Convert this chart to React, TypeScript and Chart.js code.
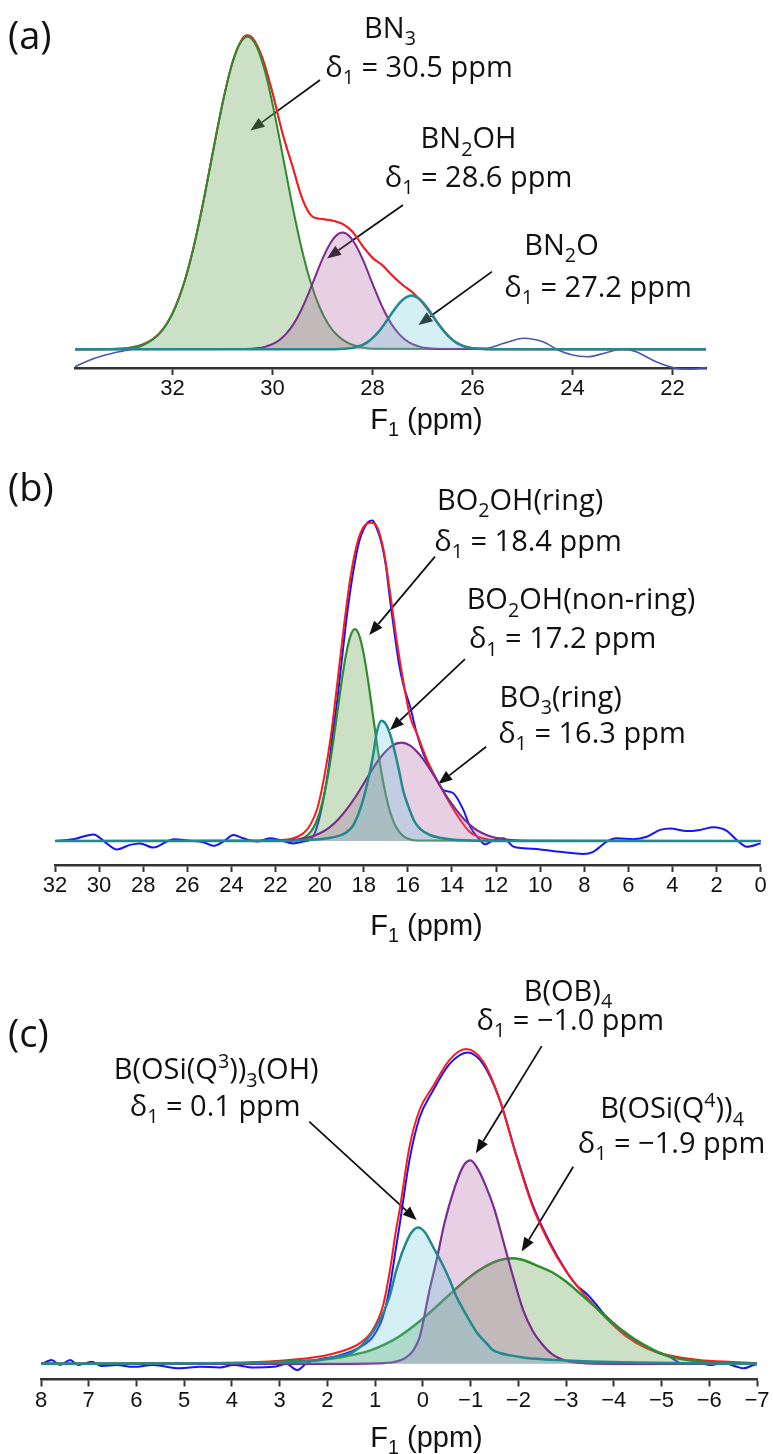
import React, { useEffect, useRef } from 'react';
import { Chart, registerables } from 'chart.js';

Chart.register(...registerables);

// ---------------- Panel (a) data : F1 (ppm) vs intensity (a.u.) ----------------
const aTicks = [32, 30, 28, 26, 24, 22];
const aExpX = [21.33, 21.65, 21.94, 22.34, 22.73, 23.02, 23.36, 23.71, 24.0, 24.29, 24.59, 24.98, 25.37, 25.76, 26.0, 26.2, 26.4, 26.6, 26.8, 27.0, 27.2, 27.4, 27.6, 27.8, 28.0, 28.2, 28.4, 28.6, 28.8, 29.0, 29.2, 29.4, 29.6, 29.8, 30.0, 30.2, 30.4, 30.5, 30.6, 30.8, 31.0, 31.2, 31.4, 31.6, 31.8, 32.0, 32.2, 32.4, 32.6, 32.8, 33.0, 33.2, 33.45, 33.7, 33.95];
const aExpY = [-6.1, -6.6, -6.3, -4.1, -0.8, 0, -1.3, -2.5, -1.9, -0.2, 2.5, 3.7, 2.0, 0.3, 0.4, 1.2, 3.1, 6.7, 11.0, 15.5, 19.0, 21.5, 24.5, 28.0, 30.5, 34.5, 39.2, 41.8, 42.9, 43.4, 44.2, 50.0, 61.0, 72.0, 85.5, 97.0, 103.8, 104.7, 103.6, 95.7, 82.0, 65.1, 47.8, 32.5, 20.5, 12.0, 6.5, 3.3, 1.2, 0.1, -0.6, -1.3, -2.4, -3.9, -5.8];
const aFitX = [21.33, 25.6, 25.8, 26.0, 26.2, 26.4, 26.6, 26.8, 27.0, 27.2, 27.4, 27.6, 27.8, 28.0, 28.2, 28.4, 28.6, 28.8, 29.0, 29.2, 29.4, 29.6, 29.8, 30.0, 30.2, 30.4, 30.5, 30.6, 30.8, 31.0, 31.2, 31.4, 31.6, 31.8, 32.0, 32.2, 32.4, 32.6, 32.8, 33.0, 33.95];
const aFitY = [0, 0, 0.1, 0.4, 1.2, 3.1, 6.7, 11.0, 15.5, 19.0, 21.5, 24.5, 28.0, 30.5, 34.5, 39.2, 41.8, 42.9, 43.4, 44.2, 50.0, 61.0, 72.0, 85.5, 97.0, 103.8, 104.7, 103.6, 95.7, 82.0, 65.1, 47.8, 32.5, 20.5, 12.0, 6.5, 3.3, 1.6, 0.7, 0.3, 0];
const aBN3X = [21.33, 27.98, 28.34, 28.52, 28.7, 28.88, 29.06, 29.24, 29.42, 29.6, 29.78, 29.96, 30.14, 30.32, 30.5, 30.68, 30.86, 31.04, 31.22, 31.4, 31.58, 31.76, 31.94, 32.12, 32.3, 32.48, 32.66, 33.02, 33.95];
const aBN3Y = [0, 0.2, 1.2, 2.4, 4.6, 8.3, 14.1, 22.5, 33.8, 47.7, 63.2, 78.6, 92.0, 101.0, 104.2, 101.0, 92.0, 78.6, 63.2, 47.7, 33.8, 22.5, 14.1, 8.3, 4.6, 2.4, 1.2, 0.2, 0];
const aBN2OHX = [21.33, 26.64, 26.92, 27.06, 27.2, 27.34, 27.48, 27.62, 27.76, 27.9, 28.04, 28.18, 28.32, 28.46, 28.6, 28.74, 28.88, 29.02, 29.16, 29.3, 29.44, 29.58, 29.72, 29.86, 30.0, 30.14, 30.28, 30.56, 33.95];
const aBN2OHY = [0, 0.1, 0.4, 0.9, 1.7, 3.1, 5.3, 8.4, 12.6, 17.8, 23.6, 29.4, 34.3, 37.7, 38.9, 37.7, 34.3, 29.4, 23.6, 17.8, 12.6, 8.4, 5.3, 3.1, 1.7, 0.9, 0.4, 0.1, 0];
const aBN2OX = [21.33, 25.68, 25.9, 26.01, 26.12, 26.23, 26.34, 26.45, 26.56, 26.67, 26.78, 26.89, 27.0, 27.11, 27.22, 27.33, 27.44, 27.55, 27.66, 27.77, 27.88, 27.99, 28.1, 28.21, 28.32, 28.43, 28.54, 28.76, 33.95];
const aBN2OY = [0, 0.04, 0.2, 0.4, 0.8, 1.4, 2.4, 3.9, 5.8, 8.2, 10.9, 13.5, 15.8, 17.3, 17.9, 17.3, 15.8, 13.5, 10.9, 8.2, 5.8, 3.9, 2.4, 1.4, 0.8, 0.4, 0.2, 0.04, 0];

// ---------------- Panel (b) data ----------------
const bTicks = [32, 30, 28, 26, 24, 22, 20, 18, 16, 14, 12, 10, 8, 6, 4, 2, 0];
const bExpX = [0, 0.63, 1.08, 1.54, 2.14, 2.75, 3.35, 4.11, 4.56, 5.17, 5.77, 6.53, 6.98, 7.59, 8.04, 9.1, 10.0, 10.76, 11.21, 11.67, 12.12, 12.5, 12.73, 13.18, 13.48, 13.94, 14.39, 14.69, 15.0, 15.3, 15.6, 15.9, 16.2, 16.4, 16.6, 16.8, 17.0, 17.2, 17.4, 17.6, 17.8, 18.0, 18.2, 18.4, 18.6, 18.8, 19.0, 19.2, 19.4, 19.6, 19.8, 20.0, 20.2, 20.4, 20.74, 21.19, 21.8, 22.25, 22.85, 23.46, 23.91, 24.37, 24.82, 25.27, 25.88, 26.63, 26.93, 27.54, 28.15, 28.6, 29.2, 29.66, 30.26, 31.17, 32];
const bExpY = [-0.8, -1.9, 0.3, 3.4, 4.6, 3.7, 3.3, 4.2, 3.7, 1.4, 0.6, 0.9, -0.2, -3.6, -4.3, -3.6, -2.8, -2.4, -1.9, 0.9, 0.3, -1.1, 0.3, 4.8, 10.3, 15.9, 17.0, 20.3, 24.5, 29.2, 36.0, 44.8, 52.0, 59.0, 69.0, 80.0, 92.0, 99.5, 104.0, 106.8, 106.3, 104.0, 100.0, 93.0, 84.0, 73.0, 60.0, 47.0, 36.0, 24.0, 15.0, 8.0, 3.0, 0.5, -0.2, -0.8, 0.3, 0.9, -0.2, 0.9, 2.0, -0.2, -1.6, -0.4, 0.1, 0.6, -0.2, -2.2, -0.8, -1.3, -2.8, -0.8, 2.2, 0.6, 0];
const bFitX = [0, 11.0, 11.8, 12.6, 13.2, 13.6, 14.1, 14.6, 15.1, 15.6, 15.9, 16.2, 16.5, 16.8, 17.1, 17.4, 17.67, 18.0, 18.3, 18.6, 18.9, 19.2, 19.5, 19.8, 20.1, 20.4, 20.7, 21.2, 22.0, 23.0, 32];
const bFitY = [0, 0, 0.1, 0.9, 3.1, 6.8, 12.6, 19.3, 26.5, 36.0, 41.5, 53.0, 66.5, 82.5, 97.0, 104.8, 106.1, 104.8, 99.2, 88.1, 71.5, 52.6, 34.5, 21.0, 11.0, 5.7, 2.8, 0.9, 0.2, 0, 0];
const bRingX = [0, 15.6, 16.0, 16.2, 16.4, 16.6, 16.8, 17.0, 17.2, 17.4, 17.6, 17.8, 18.0, 18.2, 18.4, 18.6, 18.8, 19.0, 19.2, 19.4, 19.6, 19.8, 20.0, 20.2, 20.4, 20.6, 20.8, 21.2, 32];
const bRingY = [0, 0.16, 0.8, 1.6, 3.1, 5.6, 9.6, 15.3, 22.9, 32.3, 42.8, 53.3, 62.3, 68.4, 70.6, 68.4, 62.3, 53.3, 42.8, 32.3, 22.9, 15.3, 9.6, 5.6, 3.1, 1.6, 0.8, 0.16, 0];
const bNonRingX = [0, 12.5, 13.3, 14.0, 14.5, 15.0, 15.4, 15.7, 16.0, 16.2, 16.4, 16.6, 16.8, 17.0, 17.2, 17.4, 17.6, 17.8, 18.0, 18.2, 18.5, 18.8, 19.1, 19.5, 20.0, 21.0, 22.0, 32];
const bNonRingY = [0, 0, 0.2, 0.5, 1.0, 2.0, 3.8, 6.5, 12.0, 16.5, 23.5, 30.0, 35.5, 39.0, 40.1, 36.5, 27.5, 20.5, 14.5, 9.8, 5.0, 2.8, 1.8, 1.1, 0.6, 0.2, 0, 0];
const bBO3X = [0, 10.56, 11.38, 11.79, 12.2, 12.61, 13.02, 13.43, 13.84, 14.25, 14.66, 15.07, 15.48, 15.89, 16.3, 16.71, 17.12, 17.53, 17.94, 18.35, 18.76, 19.17, 19.58, 19.99, 20.4, 20.81, 21.22, 22.04, 32];
const bBO3Y = [0, 0.07, 0.36, 0.75, 1.4, 2.6, 4.4, 7.1, 10.7, 15.0, 19.9, 24.8, 28.9, 31.8, 32.8, 31.8, 28.9, 24.8, 19.9, 15.0, 10.7, 7.1, 4.4, 2.6, 1.4, 0.75, 0.36, 0.07, 0];

// ---------------- Panel (c) data ----------------
const cTicks = [8, 7, 6, 5, 4, 3, 2, 1, 0, -1, -2, -3, -4, -5, -6, -7];
const cExpX = [-7.0, -6.93, -6.72, -6.58, -6.3, -6.03, -5.75, -5.44, -5.16, -4.9, -4.6, -4.4, -4.2, -4.0, -3.8, -3.64, -3.42, -3.2, -3.0, -2.65, -2.3, -1.96, -1.61, -1.26, -0.94, -0.56, -0.21, 0.07, 0.28, 0.49, 0.56, 0.7, 0.84, 1.05, 1.32, 1.6, 1.81, 2.16, 2.43, 2.64, 2.85, 3.13, 3.55, 3.97, 4.25, 4.67, 5.09, 5.65, 6.07, 6.41, 6.73, 6.94, 7.22, 7.39, 7.6, 7.78, 7.95, 8.0];
const cExpY = [-0.2, -0.4, -1.5, -1.0, 0.2, -0.4, 0.3, 0.1, 2.4, 3.8, 6.0, 8.0, 10.5, 13.5, 16.5, 19.6, 23.5, 26.5, 31.0, 40.8, 53.0, 69.5, 88.0, 100.0, 103.8, 100.0, 91.0, 82.0, 68.0, 46.0, 39.0, 25.0, 15.5, 9.0, 5.5, 3.5, 2.5, 1.5, 0.2, -2.1, -0.1, -1.0, -1.2, -0.4, -1.2, -1.0, -1.5, -0.4, -1.0, -0.4, -0.7, 0.7, -0.4, 1.3, -0.4, 1.3, 0.2, 0];
const cFitX = [-7.0, -6.49, -5.79, -5.1, -4.68, -4.26, -3.84, -3.42, -3.0, -2.65, -2.3, -1.96, -1.61, -1.26, -0.9, -0.56, -0.21, 0.07, 0.28, 0.49, 0.56, 0.7, 0.84, 1.05, 1.32, 1.74, 2.16, 2.86, 3.6, 5.0, 8.0];
const cFitY = [0.2, 0.6, 1.3, 3.0, 5.2, 9.1, 15.2, 22.4, 30.8, 40.2, 52.4, 69.1, 88.0, 100.8, 104.9, 101.3, 92.4, 84.6, 72.4, 51.0, 44.7, 30.2, 19.1, 11.3, 6.9, 4.0, 2.4, 1.2, 0.5, 0.1, 0];
const cQ4X = [-7.0, -6.5, -6.2, -5.79, -5.3, -5.05, -4.82, -4.4, -4.19, -3.98, -3.56, -3.28, -3.0, -2.7, -2.44, -2.1, -1.89, -1.6, -1.2, -0.91, -0.56, -0.21, 0.15, 0.49, 0.765, 1.11, 1.46, 1.81, 2.16, 2.86, 3.56, 5.0, 8.0];
const cQ4Y = [0, 0.2, 0.4, 0.8, 1.9, 3.1, 4.7, 8.6, 11.0, 13.6, 19.7, 23.6, 27.4, 30.6, 32.4, 34.6, 35.2, 34.5, 31.4, 28.0, 23.1, 18.0, 13.1, 9.2, 6.7, 4.4, 3.0, 1.9, 1.3, 0.8, 0.3, 0.1, 0];
const cOBX = [-7.0, -4.0, -3.3, -3.0, -2.7, -2.5, -2.3, -2.1, -1.9, -1.7, -1.5, -1.3, -1.15, -1.0, -0.85, -0.65, -0.45, -0.3, -0.14, 0.0, 0.065, 0.2, 0.38, 0.6, 1.0, 2.0, 8.0];
const cOBY = [0, 0, 0.3, 1.0, 3.3, 6.5, 11.0, 18.0, 28.5, 40.0, 51.5, 60.0, 65.0, 67.8, 66.0, 58.0, 46.8, 35.5, 24.6, 13.5, 9.0, 4.5, 1.8, 0.6, 0.15, 0, 0];
const cQ3X = [-7.0, -5.5, -4.4, -3.5, -3.0, -2.5, -2.1, -1.8, -1.61, -1.45, -1.33, -1.15, -0.91, -0.7, -0.56, -0.4, -0.21, -0.05, 0.1, 0.25, 0.4, 0.49, 0.56, 0.7, 0.9, 1.18, 1.46, 1.81, 2.16, 3.0, 4.5, 8.0];
const cQ3Y = [0, 0.2, 0.4, 0.8, 1.1, 1.5, 2.1, 2.9, 3.6, 4.8, 6.9, 10.0, 16.3, 22.5, 28.0, 33.5, 39.1, 43.7, 45.4, 43.5, 38.5, 34.5, 31.0, 22.3, 14.6, 7.9, 4.0, 2.4, 1.3, 0.5, 0.2, 0];

// ---------------- styles ----------------
const ANN_FONT = '"Open Sans", "DejaVu Sans", sans-serif';
const AX_FONT = '"Liberation Sans", Arial, sans-serif';
const ANN_SIZE = 29;
const TICK_SIZE = 22;
const GREEN = '#2e8b2e';
const GREEN_FILL = 'rgba(110,170,95,0.36)';
const PURPLE = '#7a2d8c';
const PURPLE_FILL = 'rgba(175,95,165,0.30)';
const TEAL = '#23898f';
const TEAL_FILL = 'rgba(100,200,215,0.28)';
const RED = '#ff1a1a';

type Seg = { t: string; s?: 'sub' | 'sup' };
type Label = { x: number; y: number; segs: Seg[] };
type Arrow = { x1: number; y1: number; x2: number; y2: number };
type Series = { xs: number[]; ys: number[]; color: string; width: number; fill?: string };
type PanelCfg = {
  top: number; height: number;
  pad: { left: number; right: number; top: number; bottom: number };
  xMin: number; xMax: number; yMin: number; yMax: number;
  ticks: number[];
  letter: string; letterY: number; titleY: number;
  labels: Label[]; arrows: Arrow[]; series: Series[];
};

const N = (t: string): Seg => ({ t });
const SUB = (t: string): Seg => ({ t, s: 'sub' });
const SUP = (t: string): Seg => ({ t, s: 'sup' });
const delta = (rest: string): Seg[] => [N('\u03b4'), SUB('1'), N(rest)];

const panels: PanelCfg[] = [
  {
    top: 0, height: 440,
    pad: { left: 75, right: 67, top: 20, bottom: 32 },
    xMin: 21.33, xMax: 33.95, yMin: -6.23, yMax: 109.77,
    ticks: aTicks, letter: '(a)', letterY: 49, titleY: 429,
    labels: [
      { x: 27.65, y: 103.7, segs: [N('BN'), SUB('3')] },
      { x: 27.07, y: 90.9, segs: delta(' = 30.5 ppm') },
      { x: 26.08, y: 67.0, segs: [N('BN'), SUB('2'), N('OH')] },
      { x: 25.88, y: 54.2, segs: delta(' = 28.6 ppm') },
      { x: 24.22, y: 31.4, segs: [N('BN'), SUB('2'), N('O')] },
      { x: 23.49, y: 17.5, segs: delta(' = 27.2 ppm') },
    ],
    arrows: [
      { x1: 29.05, y1: 89.8, x2: 30.44, y2: 72.9 },
      { x1: 27.39, y1: 48.1, x2: 28.91, y2: 30.3 },
      { x1: 25.61, y1: 25.9, x2: 27.08, y2: 8.1 },
    ],
    series: [
      { xs: aBN2OX, ys: aBN2OY, color: TEAL, width: 2.5, fill: TEAL_FILL },
      { xs: aBN2OHX, ys: aBN2OHY, color: PURPLE, width: 2, fill: PURPLE_FILL },
      { xs: aBN3X, ys: aBN3Y, color: GREEN, width: 2, fill: GREEN_FILL },
      { xs: aFitX, ys: aFitY, color: RED, width: 2 },
      { xs: aExpX, ys: aExpY, color: '#4858b0', width: 1.6 },
    ],
  },
  {
    top: 440, height: 505,
    pad: { left: 55, right: 12.3, top: 40, bottom: 40 },
    xMin: 0, xMax: 32, yMin: -8, yMax: 120.33,
    ticks: bTicks, letter: '(b)', letterY: 61, titleY: 495,
    labels: [
      { x: 10.91, y: 110.3, segs: [N('BO'), SUB('2'), N('OH(ring)')] },
      { x: 10.55, y: 96.7, segs: delta(' = 18.4 ppm') },
      { x: 8.15, y: 77.2, segs: [N('BO'), SUB('2'), N('OH(non-ring)')] },
      { x: 8.98, y: 64.2, segs: delta(' = 17.2 ppm') },
      { x: 9.07, y: 44.8, segs: [N('BO'), SUB('3'), N('(ring)')] },
      { x: 7.65, y: 32.6, segs: delta(' = 16.3 ppm') },
    ],
    arrows: [
      { x1: 14.77, y1: 94.8, x2: 17.75, y2: 68.7 },
      { x1: 13.41, y1: 60.6, x2: 16.81, y2: 37.0 },
      { x1: 12.45, y1: 31.4, x2: 14.62, y2: 19.0 },
    ],
    series: [
      { xs: bNonRingX, ys: bNonRingY, color: TEAL, width: 2.5, fill: TEAL_FILL },
      { xs: bBO3X, ys: bBO3Y, color: PURPLE, width: 2.2, fill: PURPLE_FILL },
      { xs: bRingX, ys: bRingY, color: GREEN, width: 2.2, fill: GREEN_FILL },
      { xs: bFitX, ys: bFitY, color: RED, width: 2 },
      { xs: bExpX, ys: bExpY, color: '#1414ff', width: 2 },
    ],
  },
  {
    top: 945, height: 509,
    pad: { left: 41, right: 16, top: 55, bottom: 34.5 },
    xMin: -7, xMax: 8, yMin: -5.23, yMax: 121.27,
    ticks: cTicks, letter: '(c)', letterY: 102, titleY: 502,
    labels: [
      { x: -3.04, y: 120.9, segs: [N('B(OB)'), SUB('4')] },
      { x: -3.09, y: 111.3, segs: delta(' = \u22121.0 ppm') },
      { x: 4.33, y: 94.8, segs: [N('B(OSi(Q'), SUP('3'), N('))'), SUB('3'), N('(OH)')] },
      { x: 4.35, y: 82.6, segs: delta(' = 0.1 ppm') },
      { x: -5.22, y: 81.8, segs: [N('B(OSi(Q'), SUP('4'), N('))'), SUB('4')] },
      { x: -5.21, y: 70.2, segs: delta(' = \u22121.9 ppm') },
    ],
    arrows: [
      { x1: -2.49, y1: 105.9, x2: -1.11, y2: 70.2 },
      { x1: 2.38, y1: 80.7, x2: 0.13, y2: 47.9 },
      { x1: -3.15, y1: 65.7, x2: -2.07, y2: 37.4 },
    ],
    series: [
      { xs: cQ3X, ys: cQ3Y, color: TEAL, width: 2.5, fill: TEAL_FILL },
      { xs: cOBX, ys: cOBY, color: PURPLE, width: 2.2, fill: PURPLE_FILL },
      { xs: cQ4X, ys: cQ4Y, color: GREEN, width: 2.5, fill: GREEN_FILL },
      { xs: cFitX, ys: cFitY, color: RED, width: 2 },
      { xs: cExpX, ys: cExpY, color: '#1414ff', width: 2 },
    ],
  },
];

function drawRich(ctx: CanvasRenderingContext2D, segs: Seg[], cx: number, by: number, size: number, family: string) {
  const small = size * 0.68;
  const parts = segs.map((sg) => {
    const fs = sg.s ? small : size;
    ctx.font = `${fs}px ${family}`;
    return { ...sg, fs, w: ctx.measureText(sg.t).width };
  });
  const total = parts.reduce((a, p) => a + p.w, 0);
  let x = cx - total / 2;
  ctx.textAlign = 'left';
  ctx.textBaseline = 'alphabetic';
  for (const p of parts) {
    ctx.font = `${p.fs}px ${family}`;
    const dy = p.s === 'sub' ? size * 0.25 : p.s === 'sup' ? -size * 0.38 : 0;
    ctx.fillText(p.t, x, by + dy);
    x += p.w;
  }
}

function overlay(cfg: PanelCfg) {
  return {
    id: 'overlay',
    beforeDatasetsDraw(chart: any) {
      const ctx: CanvasRenderingContext2D = chart.ctx;
      const X = chart.scales.x;
      const Y = chart.scales.y;
      ctx.save();
      for (const a of cfg.arrows) {
        const x1 = X.getPixelForValue(a.x1), y1 = Y.getPixelForValue(a.y1);
        const x2 = X.getPixelForValue(a.x2), y2 = Y.getPixelForValue(a.y2);
        const ang = Math.atan2(y2 - y1, x2 - x1);
        const hl = 14, hw = 5.5;
        const bx = x2 - hl * Math.cos(ang), by = y2 - hl * Math.sin(ang);
        ctx.strokeStyle = '#111';
        ctx.fillStyle = '#111';
        ctx.lineWidth = 1.8;
        ctx.beginPath();
        ctx.moveTo(x1, y1);
        ctx.lineTo(bx, by);
        ctx.stroke();
        ctx.beginPath();
        ctx.moveTo(x2, y2);
        ctx.lineTo(bx + hw * Math.sin(ang), by - hw * Math.cos(ang));
        ctx.lineTo(bx - hw * Math.sin(ang), by + hw * Math.cos(ang));
        ctx.closePath();
        ctx.fill();
      }
      ctx.restore();
    },
    afterDraw(chart: any) {
      const ctx: CanvasRenderingContext2D = chart.ctx;
      const X = chart.scales.x;
      const Y = chart.scales.y;
      ctx.save();
      ctx.fillStyle = '#111';
      for (const l of cfg.labels) {
        drawRich(ctx, l.segs, X.getPixelForValue(l.x), Y.getPixelForValue(l.y), ANN_SIZE, ANN_FONT);
      }
      ctx.font = `38px ${ANN_FONT}`;
      ctx.textAlign = 'left';
      ctx.textBaseline = 'alphabetic';
      ctx.fillText(cfg.letter, 8, cfg.letterY);
      drawRich(ctx, [N('F'), SUB('1'), N(' (ppm)')], 426.5, cfg.titleY, 29, AX_FONT);
      ctx.restore();
    },
  };
}

function Panel({ cfg }: { cfg: PanelCfg }) {
  const ref = useRef<HTMLCanvasElement>(null);
  useEffect(() => {
    const canvas = ref.current;
    if (!canvas) return;
    const chart = new Chart(canvas, {
      type: 'line',
      data: {
        datasets: cfg.series.map((s) => ({
          data: s.xs.map((x, i) => ({ x, y: s.ys[i] })),
          borderColor: s.color,
          borderWidth: s.width,
          backgroundColor: s.fill ?? 'transparent',
          fill: s.fill ? 'origin' : false,
          pointRadius: 0,
          cubicInterpolationMode: 'monotone',
          clip: false,
        })) as any,
      },
      options: {
        animation: false,
        responsive: false,
        maintainAspectRatio: false,
        devicePixelRatio: 1,
        events: [],
        layout: { padding: cfg.pad },
        plugins: { legend: { display: false }, tooltip: { enabled: false } },
        scales: {
          x: {
            type: 'linear',
            reverse: true,
            min: cfg.xMin,
            max: cfg.xMax,
            afterBuildTicks: (axis: any) => {
              axis.ticks = cfg.ticks.map((value) => ({ value }));
            },
            afterFit: (scale: any) => {
              scale.height = 40;
            },
            ticks: {
              autoSkip: false,
              maxRotation: 0,
              minRotation: 0,
              padding: 1,
              color: '#111',
              font: { family: AX_FONT, size: TICK_SIZE },
              callback: (v: any) => (Number(v) < 0 ? '\u2212' + Math.abs(Number(v)) : String(v)),
            },
            grid: {
              display: true,
              drawOnChartArea: false,
              drawTicks: true,
              tickLength: 7,
              tickColor: '#333',
              tickWidth: 2,
            },
            border: { display: true, color: '#333', width: 2.5 },
          },
          y: { display: false, min: cfg.yMin, max: cfg.yMax },
        },
      } as any,
      plugins: [overlay(cfg)],
    });
    return () => chart.destroy();
  }, [cfg]);
  return (
    <canvas
      ref={ref}
      width={773}
      height={cfg.height}
      style={{ position: 'absolute', left: 0, top: cfg.top, width: 773, height: cfg.height }}
    />
  );
}

export default function App() {
  return (
    <div style={{ position: 'absolute', left: 0, top: 0, width: 773, height: 1454, overflow: 'hidden', background: '#fff' }}>
      {panels.map((p, i) => (
        <Panel key={i} cfg={p} />
      ))}
    </div>
  );
}
